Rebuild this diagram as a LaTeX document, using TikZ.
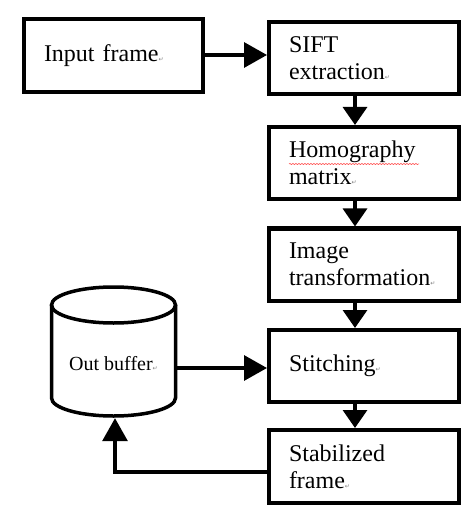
\documentclass[tikz,border=0pt]{standalone}
\usepackage{fontspec}
\setmainfont{Liberation Serif}
\newfontfamily\symfont{DejaVu Sans}
\usetikzlibrary{arrows.meta,decorations.pathmorphing}
\newcommand\pmark{{\symfont\fontsize{6}{6}\selectfont\color{gray}↵}}
\begin{document}
\begin{tikzpicture}[x=1pt,y=-1pt,
  stepbox/.style={draw, line width=4pt, rectangle, minimum width=190pt, minimum height=72pt,
    text width=150pt, inner xsep=20pt, inner ysep=0pt, align=left,
    font=\fontsize{24}{27}\selectfont},
  conn/.style={line width=3.2pt, -{Triangle[length=23pt,width=25pt]}},
  vconn/.style={line width=3.2pt, -{Triangle[length=18pt,width=24pt]}}]
\useasboundingbox (0,0) rectangle (472,510);
\fill[white] (0,0) rectangle (472,510);

\node[stepbox, minimum width=179pt, minimum height=73pt, text width=139pt] (input) at (113.5,55.5) {Input frame\pmark};
\node[stepbox] (sift) at (364,58) {SIFT\\extraction\pmark};
\node[stepbox] (homog) at (364,163) {Homography\\matrix\pmark};
\node[stepbox] (trans) at (364,264.5) {Image\\transformation\pmark};
\node[stepbox] (stitch) at (364,366) {Stitching\pmark};
\node[stepbox, minimum height=73pt] (stab) at (364,466.5) {Stabilized\\frame\pmark};

% red spell-check underline
\draw[red!80, line width=0.5pt, decorate, decoration={snake, amplitude=0.5pt, segment length=3pt}]
  (289,164) -- (419,164);

% cylinder (Out buffer)
\node[minimum width=127pt, minimum height=133pt, inner sep=0pt] (buf) at (113.5,351.5) {};
\draw[line width=3.5pt, fill=white]
  (51.5,305) -- (51.5,398) arc[start angle=180, end angle=360, x radius=62pt, y radius=18pt]
  -- (175.5,305);
\draw[line width=3.5pt] (113.5,305) ellipse[x radius=62pt, y radius=18pt];
\node[font=\fontsize{20}{24}\selectfont, inner sep=0pt] (buftext) at (113.5,364) {Out buffer\pmark};

% connectors
\draw[conn] (input.east |- 0,55) -- (sift.west |- 0,55);
\draw[vconn] ([xshift=-9pt]sift.south) -- ([xshift=-9pt]homog.north);
\draw[vconn] ([xshift=-9pt]homog.south) -- ([xshift=-9pt]trans.north);
\draw[vconn] ([xshift=-9pt]trans.south) -- ([xshift=-9pt]stitch.north);
\draw[vconn] ([xshift=-9pt]stitch.south) -- ([xshift=-9pt]stab.north);
\draw[conn] (buf.east |- 0,368) -- (stitch.west |- 0,368);
\draw[conn] (stab.west |- 0,472) -| ([xshift=1.5pt]buf.south);
\end{tikzpicture}
\end{document}
